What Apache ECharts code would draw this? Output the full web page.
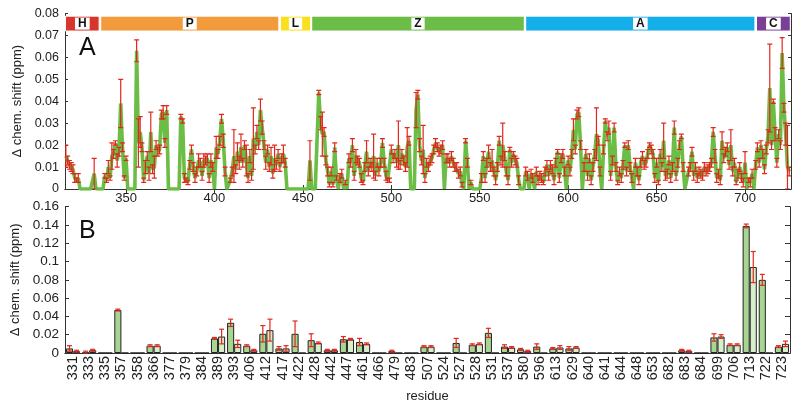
<!DOCTYPE html>
<html>
<head>
<meta charset="utf-8">
<script src="https://cdn.jsdelivr.net/npm/echarts@6/dist/echarts.min.js"></script>
<style>
html, body { margin: 0; padding: 0; background: #fff; }
#chart { width: 800px; height: 404px; }
</style>
</head>
<body>
<div id="chart"></div>
<script>
// ---- panel A: chemical shift per residue (first residue 316) ----
var firstRes = 316;
var shiftA = [
  .015,.013,.011,.010,.009,.005,.004,.005,0,0,
  0,0,0,0,0,0,.007,0,0,0,
  0,0,.006,.004,.010,.005,.015,.016,.021,.013,
  .017,.039,.019,.005,.014,0,0,0,0,0,
  .063,.021,.026,.019,.004,.010,.015,.007,.026,.009,
  .010,.020,.017,.018,.034,.035,.021,.036,0,0,
  0,0,0,0,0,.033,.031,.005,.004,.003,
  .011,.018,.010,.005,.008,.013,.012,.006,.013,.013,
  .014,.005,.013,.010,0,.019,.016,.022,.032,.022,
  .008,0,0,.004,.008,.015,.009,.017,.012,.019,
  .012,.020,.013,.005,.015,.006,.023,.018,.026,.020,
  .036,.028,.020,.012,.018,.010,.015,.007,.014,.011,
  .016,.010,.014,.016,.012,0,0,0,0,0,
  0,0,0,0,0,0,0,0,.013,0,
  0,0,0,.044,.030,.025,.026,.013,.008,.002,
  .008,.002,.019,.005,0,.005,.007,0,.003,0,
  .014,.012,.020,.006,.015,.013,.012,.005,.003,.010,
  .017,.008,.012,.010,.015,.006,.012,.008,.012,.021,
  .012,.006,.004,.004,.018,.014,.016,.012,.020,.011,
  .016,.013,.010,.019,.022,0,0,0,.036,.043,
  .020,.013,.018,.005,.012,.010,.013,.014,.018,.021,
  .019,.017,.018,.020,0,.014,.014,.012,.015,.012,
  .010,.010,.007,.008,.002,0,.022,.012,0,.003,
  0,0,0,0,0,.005,.015,.005,.012,.017,
  .010,.013,.008,.004,.010,.022,.013,.020,.015,.008,
  .004,.018,.012,.016,.013,.012,.004,0,0,0,
  .008,.006,0,.007,.005,0,.008,.004,.006,.005,
  .003,.008,.011,.006,.011,.009,.004,.012,.017,.005,
  .014,.016,.008,0,.013,.008,.016,.027,.018,.034,
  .035,.020,0,.010,.016,.006,.014,.004,.010,.016,
  .025,.022,.008,0,.018,.031,.024,.028,.006,.013,
  .028,.010,.003,.008,.005,.011,.020,.008,.020,.010,
  .005,0,.012,.008,.004,.012,.015,.011,.012,.016,
  .020,.018,.016,.005,.012,.003,.016,.010,.022,.006,
  .007,.013,.005,.010,.028,.006,.012,.020,.024,.010,
  0,0,.008,.010,.017,.006,.010,.005,.008,.007,
  .006,.010,.008,.009,.010,.012,.026,.015,.005,.007,
  .004,.022,.014,.017,.019,.011,.020,.008,.012,.003,
  .007,.010,.005,.003,.012,0,.004,.003,.007,0,
  .011,.019,.012,.020,.016,.009,.018,.024,.046,.020,
  .040,.025,.012,.025,.020,.062,.037,.025,.010,.008
];
var errA = [
  .005,.002,.002,.002,.002,.002,.001,.002,0,0,
  0,0,0,0,0,0,.007,0,0,0,
  0,0,.001,.001,.003,.001,.006,.002,.001,.003,
  .002,.011,.002,.001,.001,0,0,0,0,0,
  .005,.011,.007,.002,.001,.003,.002,.003,.009,.002,
  .005,.002,.002,.002,.002,.003,.002,.002,0,0,
  0,0,0,0,0,.001,.001,.002,.001,.001,
  .002,.002,.002,.002,.002,.003,.002,.002,.003,.002,
  .002,.002,.003,.002,0,.005,.002,.002,.002,.003,
  .002,0,0,.001,.002,.012,.002,.004,.003,.006,
  .002,.002,.007,.002,.003,.002,.014,.002,.003,.002,
  .005,.003,.002,.003,.002,.002,.004,.002,.006,.002,
  .002,.002,.002,.004,.002,0,0,0,0,0,
  0,0,0,0,0,0,0,0,.009,0,
  0,0,0,.001,.003,.010,.002,.002,.002,.001,
  .002,.001,.002,.001,0,.002,.002,0,.001,0,
  .002,.002,.003,.002,.003,.002,.002,.002,.001,.002,
  .005,.002,.002,.002,.010,.002,.002,.002,.002,.002,
  .002,.002,.001,.001,.002,.002,.002,.002,.011,.002,
  .002,.002,.002,.009,.002,0,0,0,.008,.002,
  .003,.002,.011,.002,.002,.002,.002,.002,.002,.002,
  .002,.002,.002,.002,0,.002,.002,.002,.002,.002,
  .002,.002,.002,.002,.001,0,.001,.002,0,.001,
  0,0,0,0,0,.002,.002,.002,.002,.003,
  .002,.005,.002,.002,.002,.002,.002,.010,.002,.002,
  .002,.001,.002,.001,.002,.002,.002,0,0,0,
  .002,.002,0,.002,.002,0,.002,.002,.002,.002,
  .001,.002,.002,.002,.002,.002,.002,.002,.001,.002,
  .002,.002,.002,0,.002,.002,.002,.005,.002,.002,
  .002,.002,0,.002,.002,.002,.002,.002,.002,.002,
  .012,.002,.002,0,.002,.001,.002,.003,.002,.002,
  .002,.002,.001,.002,.002,.002,.001,.002,.002,.002,
  .002,0,.002,.002,.002,.002,.002,.002,.002,.002,
  .001,.002,.002,.002,.002,.001,.002,.002,.008,.002,
  .002,.002,.002,.002,.003,.002,.002,.002,.001,.002,
  0,0,.002,.002,.002,.002,.002,.002,.002,.002,
  .002,.002,.002,.002,.002,.002,.002,.003,.002,.002,
  .002,.004,.002,.002,.002,.002,.007,.002,.002,.001,
  .002,.002,.002,.002,.005,0,.001,.002,.002,0,
  .002,.002,.002,.002,.002,.002,.002,.003,.020,.002,
  .001,.003,.002,.002,.002,.007,.002,.005,.019,.002
];
var ticksA = [350, 400, 450, 500, 550, 600, 650, 700];

// domain strip on top of panel A
var domainNames = ['H', 'P', 'L', 'Z', 'A', 'C'];
var domainStart = [315.8, 335.7, 437.3, 455.0, 576.0, 706.5];
var domainEnd = [334.8, 436.4, 454.4, 575.2, 705.6, 725.6];
var domainColors = ['#d8352c', '#f29b3c', '#f8e01f', '#6bbd47', '#14aee8', '#7c3f97'];

// ---- panel B: selected residues, two conditions ----
var resB = ['331','333','335','357','358','366','377','379','384','389','393','406','412','417','422',
  '428','442','447','461','466','479','483','507','524','527','528','531','537','580','596',
  '613','629','640','641','644','648','653','682','683','684','699','706','713','722','723'];
var darkB = [.005,.001,0,.047,0,.008,0,0,0,.016,.033,.008,.021,.005,.021,
  .014,.003,.015,.012,0,.002,0,.007,0,.011,.009,.022,.007,.004,.007,
  .005,.005,0,0,0,0,0,0,.003,0,.017,.009,.139,.080,.007];
var darkErrB = [.003,.001,0,.001,0,.001,0,0,0,.001,.004,.001,.009,.002,.014,
  .007,.001,.003,.004,0,.001,0,.001,0,.005,.001,.005,.002,.001,.003,
  .001,.002,0,0,0,0,0,0,.001,0,.004,.001,.002,.006,.001];
var lightB = [.002,.003,0,0,0,.008,0,0,0,.018,.010,.003,.025,.005,0,
  .011,.003,.015,.010,0,0,0,.007,0,0,.010,0,.006,.002,0,
  .006,.006,0,0,0,0,0,0,.002,0,.018,.009,.094,0,.010];
var lightErrB = [.001,.001,0,0,0,.001,0,0,0,.008,.004,.001,.012,.003,0,
  .001,.001,.001,.001,0,0,0,.001,0,0,.001,0,.001,.001,0,
  .002,.001,0,0,0,0,0,0,.001,0,.002,.001,.017,0,.003];

var FONT = 'Liberation Sans, Arial, Helvetica, sans-serif';
var RED = '#e2261c';

var lineData = [], errDataA = [];
for (var i = 0; i < shiftA.length; i++) {
  lineData.push([firstRes + i, shiftA[i]]);
  if (shiftA[i] > 0 && errA[i] > 0) errDataA.push([firstRes + i, shiftA[i], errA[i]]);
}
var domainAreas = [];
for (var d = 0; d < domainNames.length; d++) {
  domainAreas.push([
    { name: domainNames[d], xAxis: domainStart[d], yAxis: 0.0720,
      itemStyle: { color: domainColors[d], opacity: 1 } },
    { xAxis: domainEnd[d], yAxis: 0.0788 }
  ]);
}
var errDark = [], errLight = [];
for (var j = 0; j < resB.length; j++) {
  if (darkB[j] > 0 && darkErrB[j] > 0) errDark.push([j, darkB[j], darkErrB[j]]);
  if (lightB[j] > 0 && lightErrB[j] > 0) errLight.push([j, lightB[j], lightErrB[j]]);
}

function errorBar(side, cap) {
  return function (params, api) {
    var x = api.value(0), v = api.value(1), e = api.value(2);
    var top = api.coord([x, v + e]);
    var bot = api.coord([x, Math.max(v - e, 0)]);
    var off = 0;
    if (side !== 0) off = side * api.size([1, 0])[0] * 0.22;
    var cx = top[0] + off;
    var st = { stroke: RED, lineWidth: 1.2 };
    return {
      type: 'group',
      children: [
        { type: 'line', shape: { x1: cx, y1: top[1], x2: cx, y2: bot[1] }, style: st },
        { type: 'line', shape: { x1: cx - cap, y1: top[1], x2: cx + cap, y2: top[1] }, style: st },
        { type: 'line', shape: { x1: cx - cap, y1: bot[1], x2: cx + cap, y2: bot[1] }, style: st }
      ]
    };
  };
}

var axisLine = { show: true, lineStyle: { color: '#333', width: 1 } };
var labelStyle = { color: '#222', fontFamily: FONT };

var chart = echarts.init(document.getElementById('chart'));
chart.setOption({
  animation: false,
  backgroundColor: '#fff',
  textStyle: { fontFamily: FONT },
  graphic: [
    { type: 'text', left: 79, top: 36, style: { text: 'A', fontSize: 25, fill: '#111', fontFamily: FONT } },
    { type: 'text', left: 79, top: 219, style: { text: 'B', fontSize: 25, fill: '#111', fontFamily: FONT } }
  ],
  grid: [
    { left: 65, right: 9, top: 13.5, height: 175.5 },
    { left: 65, right: 10, top: 206.7, height: 150 }
  ],
  xAxis: [
    { type: 'value', gridIndex: 0, min: 315.5, max: 726, position: 'bottom',
      axisLine: axisLine, splitLine: { show: false },
      axisTick: { inside: true, length: 4, customValues: ticksA, lineStyle: { color: '#333' } },
      axisLabel: Object.assign({ fontSize: 13, margin: 3, customValues: ticksA }, labelStyle) },
    { type: 'value', gridIndex: 0, min: 315.5, max: 726, position: 'top',
      axisLine: axisLine, splitLine: { show: false },
      axisTick: { inside: true, length: 4, customValues: ticksA, lineStyle: { color: '#333' } },
      axisLabel: { show: false } },
    { type: 'category', gridIndex: 1, data: resB, position: 'bottom',
      name: 'residue', nameLocation: 'middle', nameGap: 37,
      nameTextStyle: { fontSize: 13, color: '#222', fontFamily: FONT },
      axisLine: axisLine,
      axisTick: { inside: true, length: 4, lineStyle: { color: '#333' } },
      axisLabel: Object.assign({ fontSize: 14.5, rotate: 90, margin: 3, interval: 0 }, labelStyle) },
    { type: 'category', gridIndex: 1, data: resB, position: 'top',
      axisLine: axisLine,
      axisTick: { inside: true, length: 5, lineStyle: { color: '#333' } },
      axisLabel: { show: false } }
  ],
  yAxis: [
    { type: 'value', gridIndex: 0, min: 0, max: 0.08, interval: 0.01, position: 'left',
      name: 'Δ chem. shift (ppm)', nameLocation: 'middle', nameGap: 38,
      nameTextStyle: { fontSize: 13, color: '#222', fontFamily: FONT },
      axisLine: axisLine, splitLine: { show: false },
      axisTick: { show: true, inside: true, length: 3, lineStyle: { color: '#333' } },
      axisLabel: Object.assign({ fontSize: 12.5, margin: 6 }, labelStyle) },
    { type: 'value', gridIndex: 0, min: 0, max: 0.08, interval: 0.01, position: 'right',
      axisLine: axisLine, splitLine: { show: false },
      axisTick: { show: true, inside: true, length: 3, lineStyle: { color: '#333' } },
      axisLabel: { show: false } },
    { type: 'value', gridIndex: 1, min: 0, max: 0.16, interval: 0.02, position: 'left',
      name: 'Δ chem. shift (ppm)', nameLocation: 'middle', nameGap: 38,
      nameTextStyle: { fontSize: 13, color: '#222', fontFamily: FONT },
      axisLine: axisLine, splitLine: { show: false },
      axisTick: { show: true, inside: true, length: 4, lineStyle: { color: '#333' } },
      axisLabel: Object.assign({ fontSize: 13.5, margin: 6 }, labelStyle) },
    { type: 'value', gridIndex: 1, min: 0, max: 0.16, interval: 0.02, position: 'right',
      axisLine: axisLine, splitLine: { show: false },
      axisTick: { show: true, inside: true, length: 5, lineStyle: { color: '#333' } },
      axisLabel: { show: false } }
  ],
  series: [
    { type: 'line', xAxisIndex: 0, yAxisIndex: 0, data: lineData, symbol: 'none',
      lineStyle: { color: '#6bbd45', width: 3.6 }, z: 2,
      markArea: {
        silent: true,
        itemStyle: { borderColor: '#fff', borderWidth: 1 },
        label: { show: true, position: 'inside', color: '#111', fontWeight: 'bold', fontSize: 12,
          backgroundColor: '#fff', padding: [0, 3, 0, 3], lineHeight: 12, fontFamily: FONT },
        data: domainAreas
      } },
    { type: 'custom', xAxisIndex: 0, yAxisIndex: 0, data: errDataA, z: 3,
      renderItem: errorBar(0, 2.5), clip: true },
    { type: 'bar', xAxisIndex: 2, yAxisIndex: 2, data: darkB, barGap: '0%', barCategoryGap: '12%',
      itemStyle: { color: '#a9d593', borderColor: '#222', borderWidth: 1 }, z: 2 },
    { type: 'bar', xAxisIndex: 2, yAxisIndex: 2, data: lightB, barGap: '0%', barCategoryGap: '12%',
      itemStyle: { color: '#d7eecb', borderColor: '#222', borderWidth: 1 }, z: 2 },
    { type: 'custom', xAxisIndex: 2, yAxisIndex: 2, data: errDark, z: 4,
      renderItem: errorBar(-1, 2.5) },
    { type: 'custom', xAxisIndex: 2, yAxisIndex: 2, data: errLight, z: 4,
      renderItem: errorBar(1, 2.5) }
  ]
});
</script>
</body>
</html>
